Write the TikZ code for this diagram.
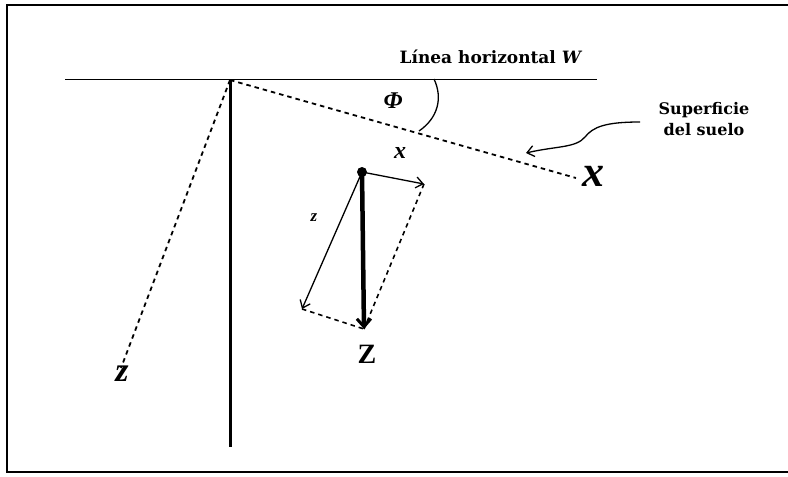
\documentclass[tikz,border=0pt]{standalone}
\usepackage{fontspec}
\setmainfont{Liberation Serif}
\newfontfamily\labfont{DejaVu Serif}
\usetikzlibrary{arrows.meta}
\begin{document}
\begin{tikzpicture}[x=1pt,y=-1pt,
  frame/.style={line width=2pt},
  dotline/.style={line width=1.8pt,dash pattern=on 4.5pt off 4pt},
  thinvec/.style={line width=1.3pt,-{Straight Barb[length=7pt,width=11pt,line width=1.3pt]}},
  bigvec/.style={line width=4.5pt,-{Straight Barb[length=8pt,width=14pt,line width=3pt]}},
  lab/.style={inner sep=0pt,font=\labfont\bfseries\fontsize{16}{21}\selectfont}]
\useasboundingbox (0,0) rectangle (788,477);
\fill[white] (0,0) rectangle (788,477);
\draw[frame] (790,5) -- (7,5) -- (7,472) -- (790,472);
% axes
\coordinate (O) at (230,80);
\coordinate (hL) at (65,79);
\coordinate (hR) at (597,79);
\coordinate (vB) at (230,447);
\draw[line width=0.9pt] (hL) -- (hR);
\draw[line width=3pt] (O) -- (vB);
\coordinate (Xend) at (576,178);
\coordinate (Zend) at (121,368);
\draw[dotline] (O) -- (Xend);
\draw[dotline] (O) -- (Zend);
% angle arc
\coordinate (a0) at (434,79);
\coordinate (a1) at (419,131);
\draw[line width=1.3pt] (a0) .. controls (443,98) and (438,118) .. (a1);
\node[inner sep=0pt,font=\fontsize{24}{24}\selectfont\itshape\bfseries] (phi) at (393,101) {Φ};
% labels
\node[lab,font=\labfont\bfseries\fontsize{17}{21}\selectfont] (hlab) at (491,57) {Línea horizontal \textit{W}};
\node[lab,align=center] (surf) at (704,119) {Superficie\\del suelo};
\coordinate (w0) at (640,122);
\coordinate (w1) at (526,153);
\draw[line width=1.3pt,-{Straight Barb[length=7pt,width=11pt,line width=1.3pt]}] (w0) .. controls (605,122) and (593,127) .. (585,137) .. controls (576,148) and (556,146) .. (w1);
\node[inner sep=0pt,font=\fontsize{44}{44}\selectfont\itshape\bfseries] (X) at (593,176) {x};
\node[inner sep=0pt,font=\fontsize{34}{34}\selectfont\itshape\bfseries] (zb) at (122,374) {z};
% vectors
\coordinate (P) at (362,172);
\coordinate (Ztip) at (364,329);
\coordinate (xtip) at (424,184);
\coordinate (ztip) at (302,309);
\draw[dotline,line width=1.6pt] (xtip) -- (Ztip);
\draw[dotline,line width=1.6pt] (ztip) -- (Ztip);
\draw[thinvec] (P) -- (xtip);
\draw[thinvec] (P) -- (ztip);
\draw[bigvec] (P) -- (Ztip);
\fill (P) circle (5pt);
\node[inner sep=0pt,font=\fontsize{24}{24}\selectfont\itshape\bfseries] (xl) at (400,153) {x};
\node[inner sep=0pt,font=\fontsize{17}{17}\selectfont\itshape\bfseries] (zl) at (314,218) {z};
\node[inner sep=0pt,font=\fontsize{28}{28}\selectfont\bfseries] (Zl) at (367,354) {Z};
\end{tikzpicture}
\end{document}
